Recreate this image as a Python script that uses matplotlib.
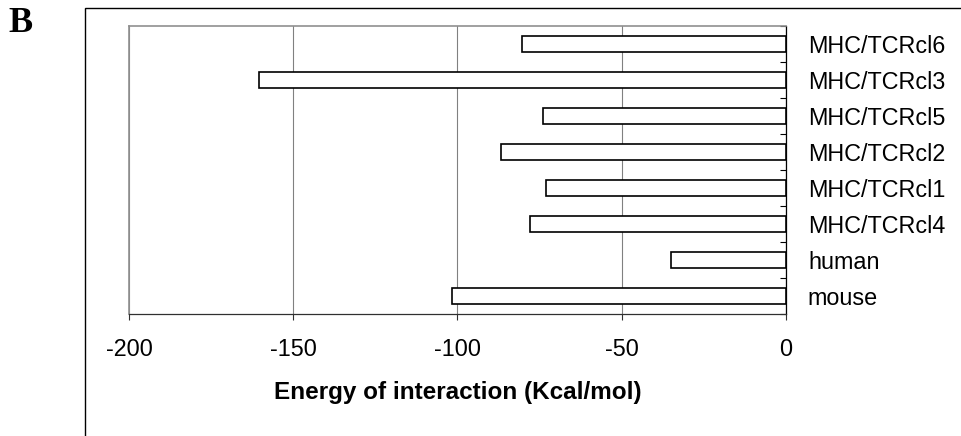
import matplotlib.pyplot as plt
import matplotlib.patches as patches
import numpy as np

# data (bottom to top)
categories = ['mouse', 'human', 'MHC/TCRcl4', 'MHC/TCRcl1',
              'MHC/TCRcl2', 'MHC/TCRcl5', 'MHC/TCRcl3', 'MHC/TCRcl6']
energies = [-101.5, -35.0, -78.0, -73.0, -86.7, -74.0, -160.5, -80.3]
xticks = [-200, -150, -100, -50, 0]

plt.rcParams['font.family'] = ['Liberation Sans', 'DejaVu Sans']

fig = plt.figure(figsize=(9.61, 4.36), dpi=100)
ax = fig.add_axes([0.1342, 0.2798, 0.6834, 0.6606])

ypos = np.arange(len(categories))
ax.barh(ypos, energies, height=0.44, color='white', edgecolor='black',
        linewidth=1.2, zorder=3)

ax.set_xlim(-200, 0)
ax.set_ylim(-0.5, len(categories) - 0.5)
ax.set_xticks(xticks)
ax.set_xticklabels([str(v) for v in xticks], fontsize=16.8)
ax.tick_params(axis='x', direction='out', length=4.5, width=0.8,
               color='#303030', pad=13)

# category axis on the right, ticks between categories
ax.yaxis.tick_right()
ax.set_yticks(ypos)
ax.set_yticklabels(categories, fontsize=16.8)
ax.set_yticks(np.arange(len(categories) + 1) - 0.5, minor=True)
ax.tick_params(axis='y', which='major', length=0, pad=16)
ax.tick_params(axis='y', which='minor', direction='in', length=4.5,
               width=0.8, color='black', right=True, left=False)

ax.grid(axis='x', color='#808080', linewidth=0.8, zorder=0)
ax.set_axisbelow(True)

for side in ('left', 'top'):
    ax.spines[side].set_color('#909090')
    ax.spines[side].set_linewidth(1.2)
ax.spines['right'].set_color('black')
ax.spines['right'].set_linewidth(0.9)
ax.spines['bottom'].set_color('#303030')
ax.spines['bottom'].set_linewidth(0.9)

ax.set_xlabel('Energy of interaction (Kcal/mol)', fontsize=17.5,
              fontweight='bold', labelpad=14)

# outer frame (runs off the right and bottom edges)
frame = patches.Rectangle((85 / 961, -0.1), 1.0, 1.1 - 8 / 436,
                          transform=fig.transFigure, fill=False,
                          edgecolor='black', linewidth=1.0, clip_on=False)
fig.add_artist(frame)

fig.text(8 / 961, 1 - 24 / 436, 'B', fontsize=26, fontweight='bold',
         family=['Liberation Serif', 'DejaVu Serif'], va='center', ha='left')

fig.savefig('out.png', dpi=100)
